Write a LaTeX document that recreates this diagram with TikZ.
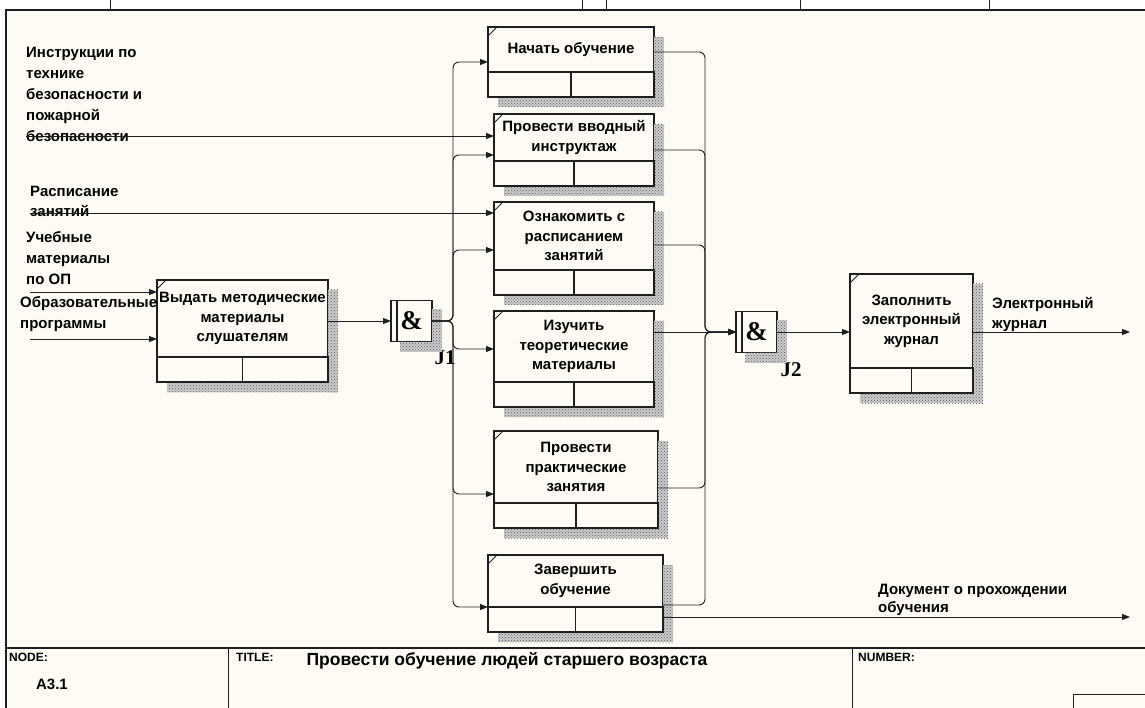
\documentclass[tikz,border=0pt]{standalone}
\usepackage{fontspec}
\setmainfont{Liberation Sans}
\newfontfamily\jfont{Liberation Serif}
\usetikzlibrary{arrows.meta,calc,patterns}

\definecolor{paper}{HTML}{FDFBF3}
\definecolor{ink}{HTML}{1E1E1E}

\begin{document}
\begin{tikzpicture}[x=1pt,y=-1pt,
    act/.style={draw=ink,line width=1.5pt,fill=paper,inner sep=0pt,outer sep=0pt,
      align=center,font=\fontsize{15}{19.5}\selectfont\bfseries},
    junc/.style={draw=ink,line width=1.3pt,fill=paper,inner sep=0pt,outer sep=0pt,
      minimum size=41pt,font=\jfont\bfseries\fontsize{27}{27}\selectfont},
    lbl/.style={anchor=north west,inner sep=0pt,align=left,
      font=\fontsize{15}{21}\selectfont\bfseries},
    flow/.style={draw=ink,line width=0.9pt,-{Triangle[length=8pt,width=6pt]}},
    shade/.style={fill=gray!40,postaction={pattern=crosshatch dots,pattern color=black!65}}]

  \useasboundingbox (0,0) rectangle (1145,708);
  \fill[white] (0,0) rectangle (1145,708);
  \fill[paper] (6,10) rectangle (1145,708);

  % frame and title block
  \draw[ink,line width=1.5pt] (6,708) -- (6,10) -- (1145,10);
  \foreach \x in {110,582,606,800,989}
    \draw[ink,line width=0.7pt] (\x,0) -- (\x,10);
  \draw[ink,line width=1.3pt] (6,648) -- (1145,648);
  \draw[ink,line width=1pt] (228,648) -- (228,708);
  \draw[ink,line width=1pt] (852,648) -- (852,708);
  \draw[ink,line width=1pt] (1073,708) -- (1073,694) -- (1145,694);

  \begin{scope}[every node/.style={anchor=north west,inner sep=0pt,
      font=\fontsize{12}{14}\selectfont\bfseries}]
    \node (nodehd) at (9,653) {NODE:};
    \node (titlehd) at (236,653) {TITLE:};
    \node (numhd) at (858,653) {NUMBER:};
  \end{scope}
  \node[font=\fontsize{15}{17}\selectfont\bfseries] (nodeno) at (52,684) {A3.1};
  \node[anchor=west,font=\fontsize{17.5}{19}\selectfont\bfseries] (title) at (303,661)
    {Провести обучение людей старшего возраста};

  % activities
  \begin{scope}[every node/.style={act}]
    \node[minimum width=171pt,minimum height=77pt] (b0) at (242.5,318.5)
      {Выдать методические\\материалы\\слушателям};
    \node[minimum width=166pt,minimum height=45pt] (a1) at (571,49.5)
      {Начать обучение};
    \node[minimum width=160pt,minimum height=47pt] (a2) at (574,137.5)
      {Провести вводный\\инструктаж};
    \node[minimum width=160pt,minimum height=68pt] (a3) at (574,236)
      {Ознакомить с\\расписанием\\занятий};
    \node[minimum width=160pt,minimum height=71pt] (a4) at (574,346.5)
      {Изучить\\теоретические\\материалы};
    \node[minimum width=164pt,minimum height=72pt] (a5) at (576,467)
      {Провести\\практические\\занятия};
    \node[minimum width=175pt,minimum height=52pt] (a6) at (575.5,581)
      {Завершить\\обучение};
    \node[minimum width=123pt,minimum height=94pt] (b7) at (911.5,321)
      {Заполнить\\электронный\\журнал};
  \end{scope}

  \node[junc] (j1) at (411.5,321) {\&};
  \node[junc] (j2) at (756.5,332) {\&};
  \node[font=\jfont\bfseries\fontsize{21}{21}\selectfont] (j1lbl) at (445,358) {J1};
  \node[font=\jfont\bfseries\fontsize{21}{21}\selectfont] (j2lbl) at (791,370) {J2};

  \foreach \n in {b0,a1,a2,a3,a4,a5,a6,b7}{
    \path[shade] ($(\n.north east)+(0,10)$) rectangle ($(\n.south east)+(10,35)$);
    \path[shade] ($(\n.south west)+(10,25)$) rectangle ($(\n.south east)+(10,35)$);
    \draw[ink,line width=1.5pt,fill=paper] (\n.south west) rectangle ($(\n.south east)+(0,25)$);
    \draw[ink,line width=1.5pt] (\n.south) -- ($(\n.south)+(0,25)$);
    \draw[ink,line width=1pt] ($(\n.north west)+(0,9)$) -- ($(\n.north west)+(9,0)$);
  }
  \foreach \n in {j1,j2}{
    \path[shade] ($(\n.north east)+(0,9)$) rectangle ($(\n.south east)+(10,10)$);
    \path[shade] ($(\n.south west)+(9,0)$) rectangle ($(\n.south east)+(10,10)$);
    \draw[ink,line width=1.3pt] ($(\n.north west)+(6,0)$) -- ($(\n.south west)+(6,0)$);
  }

  % arrow labels
  \begin{scope}[every node/.style={lbl}]
    \node (instrlbl) at (26,47)
      {Инструкции по\\технике\\безопасности и\\пожарной\\безопасности};
    \node[font=\fontsize{15}{20}\selectfont\bfseries] (schedlbl) at (30,186)
      {Расписание\\занятий};
    \node (umatlbl) at (26,231) {Учебные\\материалы\\по ОП};
    \node (oproglbl) at (20,296) {Образовательные\\программы};
    \node[font=\fontsize{15}{20}\selectfont\bfseries] (ejlbl) at (992,297)
      {Электронный\\журнал};
    \node[font=\fontsize{15}{18}\selectfont\bfseries] (doclbl) at (878,584)
      {Документ о прохождении\\обучения};
  \end{scope}

  \coordinate (instr) at (26,136);
  \coordinate (sched) at (30,213);
  \coordinate (umat) at (30,292);
  \coordinate (oprog) at (30,339);
  \coordinate (busL) at (453,321);
  \coordinate (busR) at (705,332);
  \coordinate (ejout) at (1130,332);
  \coordinate (docout) at (1130,617);

  \draw[flow] (instr) -- (a2.west |- instr);
  \draw[flow] (sched) -- (a3.west |- sched);
  \draw[flow] (umat) -- (b0.west |- umat);
  \draw[flow] (oprog) -- (b0.west |- oprog);
  \draw[flow] (b0.east |- j1.west) -- (j1.west);

  \foreach \t/\y in {a1/62,a2/155,a3/250,a4/349,a5/494,a6/607}
    \draw[flow,rounded corners=6pt] (j1.east) -- (busL) |- (\t.west |- 0,\y);

  \foreach \t/\y in {a1/52,a2/150,a3/245,a5/488,a6/605}
    \draw[flow,rounded corners=6pt] (\t.east |- 0,\y) -| (busR) -- (j2.west);
  \draw[flow] (a4.east |- j2.west) -- (j2.west);

  \draw[flow] (j2.east) -- (b7.west |- j2.east);
  \draw[flow] (b7.east |- j2.east) -- (ejout);
  \draw[flow] (a6.east |- 0,617) -- (docout);

\end{tikzpicture}
\end{document}
